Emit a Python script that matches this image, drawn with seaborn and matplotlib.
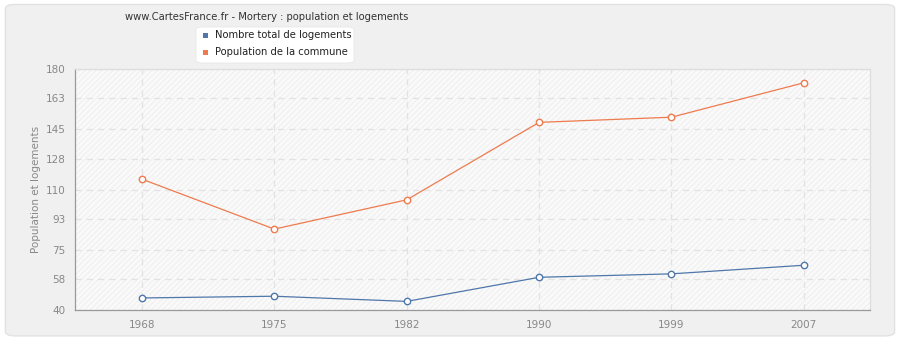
import matplotlib
matplotlib.use("Agg")
import matplotlib.pyplot as plt
from matplotlib.patches import FancyBboxPatch, Rectangle
import seaborn as sns
import pandas as pd

years = ["1968", "1975", "1982", "1990", "1999", "2007"]
logements = [47, 48, 45, 59, 61, 66]
population = [116, 87, 104, 149, 152, 172]
yticks = [40, 58, 75, 93, 110, 128, 145, 163, 180]

title = "www.CartesFrance.fr - Mortery : population et logements"
label_log = "Nombre total de logements"
label_pop = "Population de la commune"
ylabel = "Population et logements"

c_log = "#4f77aa"
c_pop = "#ee7b4e"

sns.set_style("white")
plt.rcParams['font.family'] = ['DejaVu Sans']

df = pd.DataFrame({
    "year": years * 2,
    "value": logements + population,
    "serie": [label_log] * len(years) + [label_pop] * len(years),
})

fig = plt.figure(figsize=(9, 3.4), dpi=100)
fig.patch.set_facecolor("#ffffff")
bg = FancyBboxPatch((0.006, 0.012), 0.988, 0.975, boxstyle="round,pad=0,rounding_size=0.012",
                    transform=fig.transFigure, facecolor="#f0f0f0", edgecolor="#e2e2e2",
                    linewidth=1.0, zorder=-10)
fig.patches.append(bg)

ax = fig.add_axes([75/900, 1 - 310/340, (870-75)/900, (310-69)/340])
ax.set_facecolor("#fafafa")
ax.add_patch(Rectangle((0, 0), 1, 1, transform=ax.transAxes, facecolor="none",
                       edgecolor="#f1f1f1", hatch="//////", linewidth=0, zorder=0))

sns.lineplot(data=df, x="year", y="value", hue="serie", palette=[c_log, c_pop],
             marker="o", markersize=4.6, markerfacecolor="white", markeredgewidth=1.0,
             linewidth=0.9, sort=False, legend=False, ax=ax, zorder=3)
for line, c in zip(ax.get_lines(), [c_log, c_pop]):
    line.set_markeredgecolor(c)

ax.set_xlim(-0.506, 5.5)
ax.set_ylim(40, 180)
ax.set_yticks(yticks)
ax.set_yticklabels([str(v) for v in yticks])
ax.grid(True, color="#e2e2e2", linestyle=(0, (5, 4)), linewidth=0.9)
ax.set_axisbelow(True)
ax.tick_params(axis="both", colors="#999999", labelcolor="#888888", labelsize=7.5,
               length=4, width=0.8, direction="out", pad=3)
for s in ["left", "bottom"]:
    ax.spines[s].set_color("#999999")
    ax.spines[s].set_linewidth(0.9)
for s in ["top", "right"]:
    ax.spines[s].set_color("#dddddd")
    ax.spines[s].set_linewidth(0.9)
ax.set_xlabel("")
ax.set_ylabel(ylabel, color="#888888", fontsize=7.5, labelpad=3)

fig.text(267/900, 1 - 17/340, title, ha="center", va="center", fontsize=7.2, color="#333333")

leg_box = FancyBboxPatch((196/900, 1 - 63/340), 158/900, 36/340,
                         boxstyle="round,pad=0,rounding_size=0.008",
                         transform=fig.transFigure, facecolor="white", edgecolor="#e8e8e8",
                         linewidth=0.6, zorder=5)
fig.patches.append(leg_box)
for i, (lab, c) in enumerate([(label_log, c_log), (label_pop, c_pop)]):
    y = 1 - (35 + i * 17) / 340
    fig.patches.append(Rectangle((205/900 - 2.5/900, y - 2.5/340), 5/900, 5/340,
                                 transform=fig.transFigure, facecolor=c, edgecolor="none", zorder=6))
    fig.text(215/900, y, lab, ha="left", va="center", fontsize=7.2, color="#222222", zorder=7)

fig.savefig("out.png", dpi=100, facecolor=fig.get_facecolor())
